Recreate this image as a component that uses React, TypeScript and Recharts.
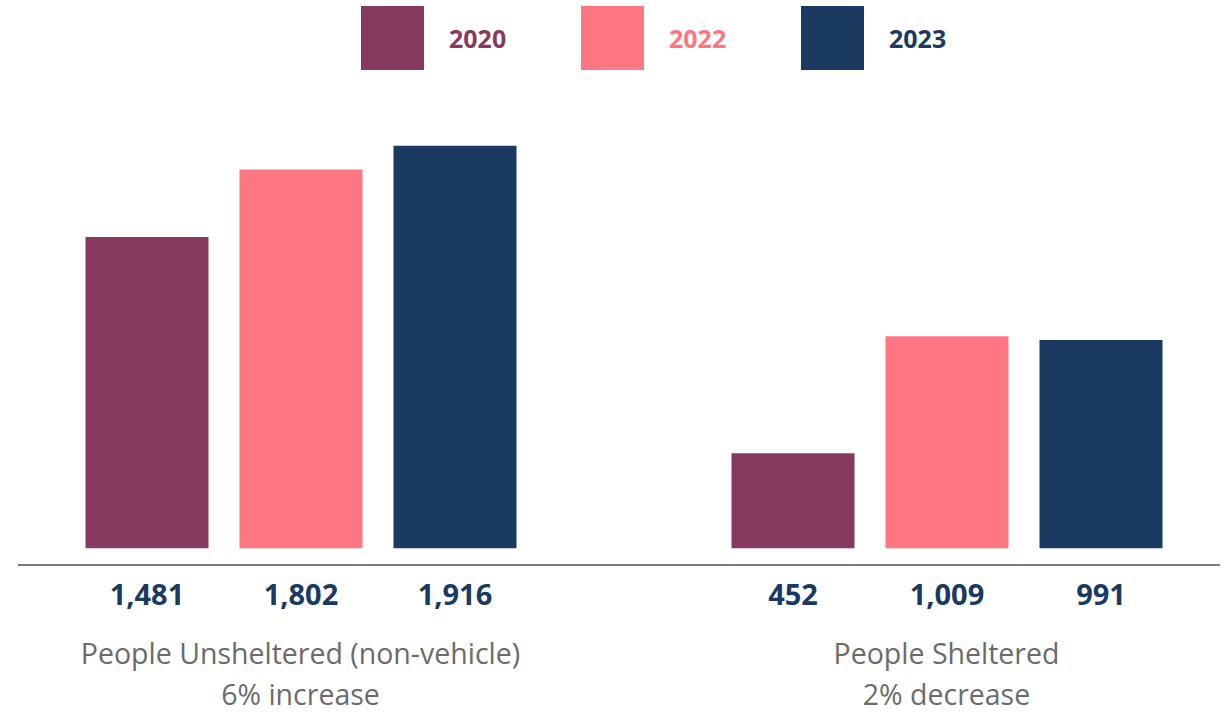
import { BarChart, Bar, XAxis, YAxis, LabelList } from 'recharts';

// Point-in-time counts
const categories = ['People Unsheltered (non-vehicle)', 'People Sheltered'];
const changeNotes = ['6% increase', '2% decrease'];
const years = ['2020', '2022', '2023'];
const counts2020 = [1481, 452];
const counts2022 = [1802, 1009];
const counts2023 = [1916, 991];

const colors: Record<string, string> = {
  '2020': '#873A60',
  '2022': '#FF7683',
  '2023': '#1A3A62',
};

const data = categories.map((name, i) => ({
  name,
  note: changeNotes[i],
  '2020': counts2020[i],
  '2022': counts2022[i],
  '2023': counts2023[i],
}));

const font = '"Open Sans", "Noto Sans", sans-serif';

const fmt = (v: number) => v.toLocaleString('en-US');

function ValueLabel(props: any) {
  const { x, y, width, height, value } = props;
  return (
    <text
      x={x + width / 2}
      y={y + height + 57}
      textAnchor="middle"
      fontFamily={font}
      fontWeight={700}
      fontSize={29}
      fill="#1A3A62"
    >
      {fmt(value)}
    </text>
  );
}

function CategoryTick(props: any) {
  const { x, y, payload, index } = props;
  return (
    <g>
      <text x={x} y={y + 99} textAnchor="middle" fontFamily={font} fontSize={28.5} fill="#6B6B6B">
        {payload.value}
      </text>
      <text x={x} y={y + 140} textAnchor="middle" fontFamily={font} fontSize={28.5} fill="#6B6B6B">
        {changeNotes[index]}
      </text>
    </g>
  );
}

function Legend() {
  return (
    <div
      style={{
        position: 'absolute',
        top: 6,
        left: 361,
        display: 'flex',
        alignItems: 'center',
        fontFamily: font,
      }}
    >
      {years.map((yr) => (
        <div key={yr} style={{ display: 'flex', alignItems: 'center', width: 220 }}>
          <div style={{ width: 63, height: 64, background: colors[yr] }} />
          <span
            style={{
              marginLeft: 25,
              fontSize: 25,
              fontWeight: 700,
              color: colors[yr],
              lineHeight: '64px',
            }}
          >
            {yr}
          </span>
        </div>
      ))}
    </div>
  );
}

export default function App() {
  return (
    <div style={{ position: 'relative', width: 1230, height: 712, background: '#fff' }}>
      <style>{`body{margin:0}`}</style>
      <Legend />
      <BarChart
        width={1230}
        height={712}
        data={data}
        margin={{ top: 128, right: 10, bottom: 0, left: 18 }}
        barSize={123}
        barGap={31}
      >
        <XAxis
          dataKey="name"
          height={147}
          tickLine={false}
          tickSize={0}
          tickMargin={0}
          axisLine={{ stroke: '#505050', strokeWidth: 1.5 }}
          padding={{ left: -40.5, right: -49.5 }}
          tick={<CategoryTick />}
          interval={0}
        />
        <YAxis hide domain={[-80, 2000]} />
        {years.map((yr) => (
          <Bar key={yr} dataKey={yr} fill={colors[yr]} isAnimationActive={false}>
            <LabelList dataKey={yr} content={<ValueLabel />} />
          </Bar>
        ))}
      </BarChart>
    </div>
  );
}
